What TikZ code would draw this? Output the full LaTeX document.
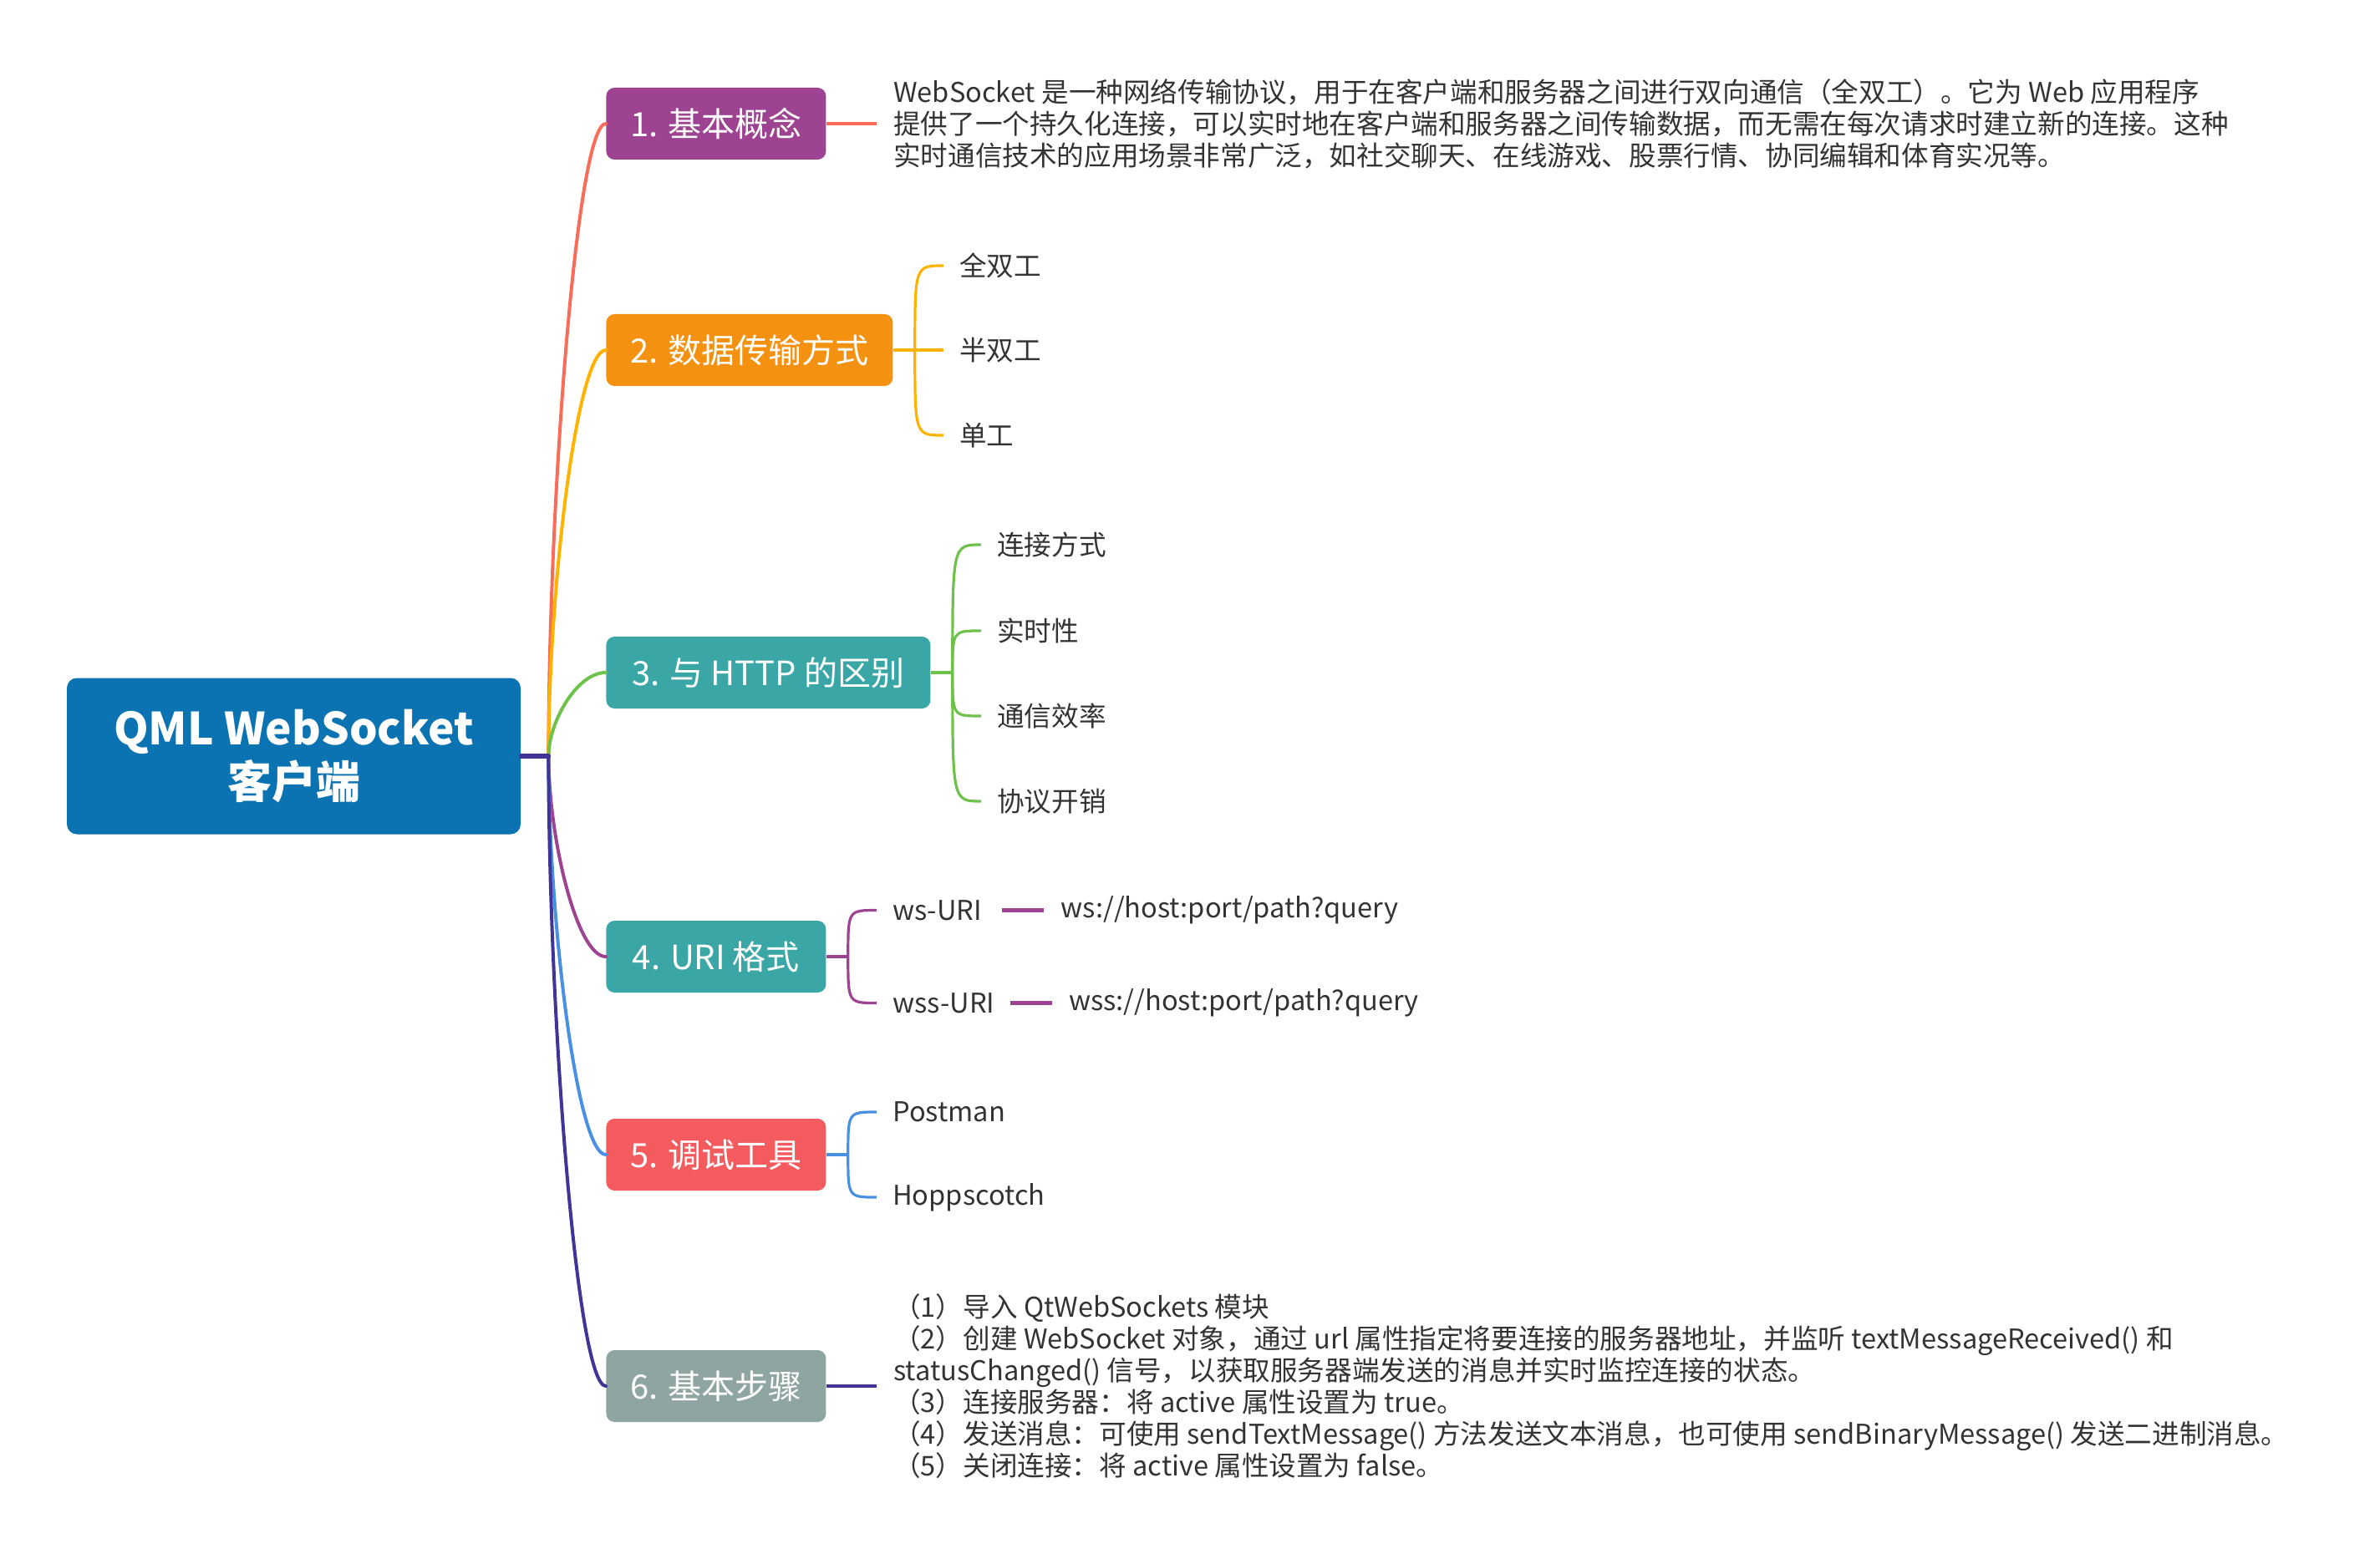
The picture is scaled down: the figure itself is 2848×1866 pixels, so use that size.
\documentclass[tikz,border=0pt]{standalone}
\usepackage{fontspec}
\setmainfont{Noto Sans CJK SC}
\usetikzlibrary{positioning}
\usetikzlibrary{calc}
\definecolor{rootblue}{RGB}{11,115,177}
\definecolor{boxA}{RGB}{157,67,146}
\definecolor{boxB}{RGB}{244,145,17}
\definecolor{boxC}{RGB}{58,166,166}
\definecolor{boxE}{RGB}{244,91,94}
\definecolor{boxF}{RGB}{143,165,162}
\definecolor{lnA}{RGB}{250,108,90}
\definecolor{lnB}{RGB}{255,178,0}
\definecolor{lnC}{RGB}{110,194,75}
\definecolor{lnD}{RGB}{157,67,146}
\definecolor{lnE}{RGB}{74,144,226}
\definecolor{lnF}{RGB}{64,52,150}
\definecolor{txtgray}{RGB}{51,51,51}

\begin{document}
\begin{tikzpicture}[x=0.5pt,y=-0.5pt,
		root/.style={fill=rootblue,rounded corners=6pt,text=white,align=center,
			font=\bfseries\fontsize{26.5}{32}\selectfont,
			minimum width=271.5pt,minimum height=93.5pt,inner sep=0pt},
		topic/.style={fill=#1,rounded corners=5pt,text=white,
			font=\fontsize{20}{24}\selectfont,
			minimum width=131.5pt,minimum height=43pt,inner sep=0pt,anchor=west},
		leaf/.style={text=txtgray,font=\fontsize{16.3}{19}\selectfont,inner sep=0pt,anchor=west},
		note/.style={leaf,align=left},
		spine/.style={line width=2pt,line cap=round},
		twig/.style={line width=1.6pt}]
	\useasboundingbox (0,0) rectangle (2848,1866);
	
	\node[root] (root) at (351.5,905) {QML WebSocket\\客户端};
	\coordinate[right=16.5pt of root.east] (hub);
	
	\node[topic=boxA] (b1) at (725,148) {1. 基本概念};
	\node[topic=boxB,minimum width=171.5pt] (b2) at (725,419) {2. 数据传输方式};
	\node[topic=boxC,minimum width=194pt] (b3) at (725,805) {3. 与 HTTP 的区别};
	\node[topic=boxC] (b4) at (725,1145) {4. URI 格式};
	\node[topic=boxE] (b5) at (725,1382) {5. 调试工具};
	\node[topic=boxF] (b6) at (725,1659) {6. 基本步骤};
	
	% main branches
	\foreach \b/\c in {b1/lnA,b2/lnB,b3/lnC,b4/lnD,b5/lnE,b6/lnF}
		\draw[spine,\c] (hub) .. controls ($(hub)!0.4!(hub |- \b.west)$) and ([xshift=-17.5pt]\b.west) .. (\b.west);
	\draw[spine,lnF,line width=2.6pt] (root.east) -- (hub);
	
	% 1
	\node[note,right=40pt of b1] (t1) {WebSocket 是一种网络传输协议，用于在客户端和服务器之间进行双向通信（全双工）。它为 Web 应用程序\\
		提供了一个持久化连接，可以实时地在客户端和服务器之间传输数据，而无需在每次请求时建立新的连接。这种\\
		实时通信技术的应用场景非常广泛，如社交聊天、在线游戏、股票行情、协同编辑和体育实况等。};
	\draw[twig,lnA,line width=2.2pt] (b1.east) -- ([xshift=-10pt]t1.west);
	
	% 2
	\node[leaf,right=39.5pt of b2,yshift=50.5pt] (l21) {全双工};
	\node[leaf,right=39.5pt of b2] (l22) {半双工};
	\node[leaf,right=39.5pt of b2,yshift=-51pt] (l23) {单工};
	\draw[twig,lnB] (b2.east) -- ++(13pt,0) coordinate (k2);
	\foreach \l in {l21,l22,l23}
		\draw[twig,lnB] (k2) .. controls (k2 |- \l.west) .. ([xshift=-9.5pt]\l.west);
	
	% 3
	\node[leaf,right=39.5pt of b3,yshift=76.5pt] (l31) {连接方式};
	\node[leaf,right=39.5pt of b3,yshift=25pt] (l32) {实时性};
	\node[leaf,right=39.5pt of b3,yshift=-26pt] (l33) {通信效率};
	\node[leaf,right=39.5pt of b3,yshift=-77pt] (l34) {协议开销};
	\draw[twig,lnC] (b3.east) -- ++(13pt,0) coordinate (k3);
	\foreach \l in {l31,l32,l33,l34}
		\draw[twig,lnC] (k3) .. controls (k3 |- \l.west) .. ([xshift=-9.5pt]\l.west);
	
	% 4
	\node[leaf,right=39.5pt of b4,yshift=27.75pt] (l41) {ws-URI};
	\node[leaf,right=39.5pt of b4,yshift=-27.75pt] (l42) {wss-URI};
	\node[leaf,right=47pt of l41] (v41) {ws://host:port/path?query};
	\node[leaf,right=44pt of l42] (v42) {wss://host:port/path?query};
	\draw[twig,lnD] (b4.east) -- ++(13pt,0) coordinate (k4);
	\foreach \l in {l41,l42}
		\draw[twig,lnD] (k4) .. controls (k4 |- \l.west) .. ([xshift=-9.5pt]\l.west);
	\draw[twig,lnD,line width=2.2pt] ([xshift=12pt]l41.east) -- ([xshift=-10pt]v41.west);
	\draw[twig,lnD,line width=2.2pt] ([xshift=9pt]l42.east) -- ([xshift=-10pt]v42.west);
	
	% 5
	\node[leaf,right=39.5pt of b5,yshift=25.5pt] (l51) {Postman};
	\node[leaf,right=39.5pt of b5,yshift=-25.5pt] (l52) {Hoppscotch};
	\draw[twig,lnE] (b5.east) -- ++(13pt,0) coordinate (k5);
	\foreach \l in {l51,l52}
		\draw[twig,lnE] (k5) .. controls (k5 |- \l.west) .. ([xshift=-9.5pt]\l.west);
	
	% 6
	\node[note,right=40pt of b6] (t6) {（1）导入 QtWebSockets 模块\\
		（2）创建 WebSocket 对象，通过 url 属性指定将要连接的服务器地址，并监听 textMessageReceived() 和\\
		statusChanged() 信号，以获取服务器端发送的消息并实时监控连接的状态。\\
		（3）连接服务器：将 active 属性设置为 true。\\
		（4）发送消息：可使用 sendTextMessage() 方法发送文本消息，也可使用 sendBinaryMessage() 发送二进制消息。\\
		（5）关闭连接：将 active 属性设置为 false。};
	\draw[twig,lnF,line width=2.2pt] (b6.east) -- ([xshift=-10pt]t6.west);
\end{tikzpicture}
\end{document}
